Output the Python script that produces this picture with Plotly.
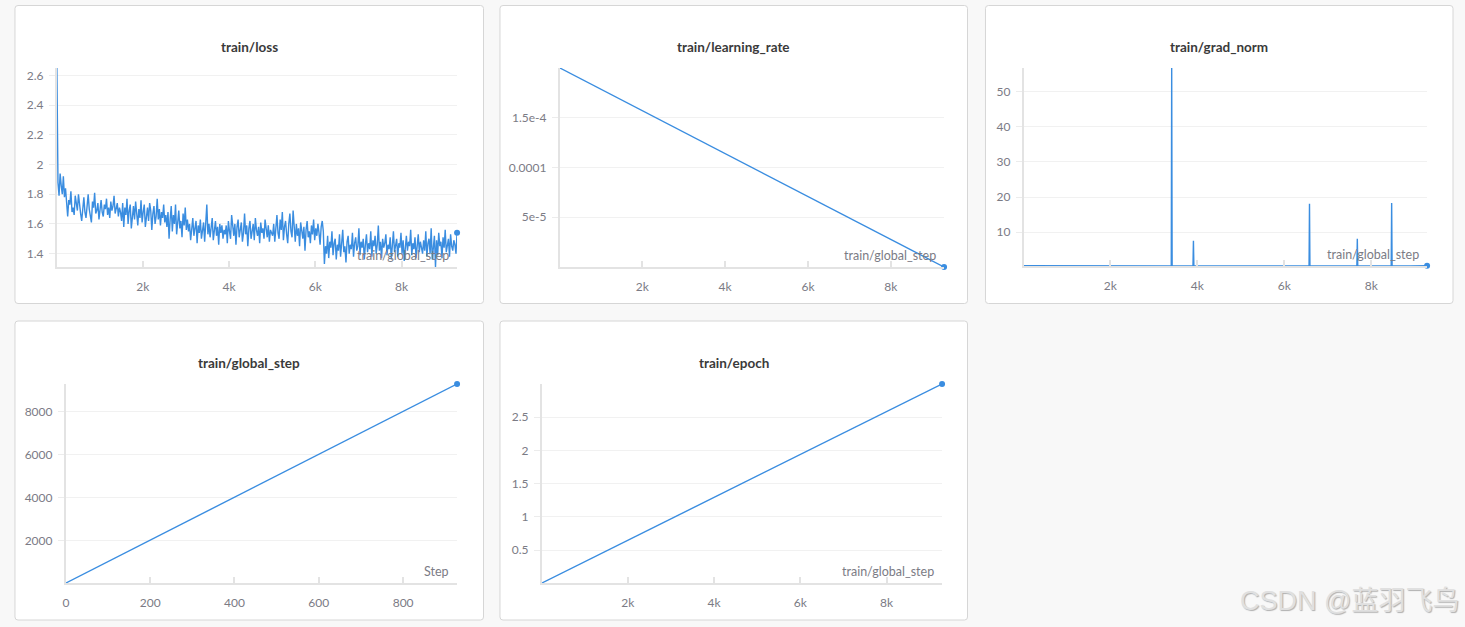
import numpy as np
import plotly.graph_objects as go

# ---------------- data ----------------
loss_values = [
    2.65,
    1.88, 1.79, 1.94, 1.86, 1.80, 1.92, 1.78, 1.84,
    1.70, 1.65, 1.76, 1.73, 1.82, 1.68, 1.71, 1.66, 1.79, 1.74, 1.69, 1.80, 1.72, 1.67,
    1.62, 1.73, 1.78, 1.68, 1.64, 1.72, 1.80, 1.70, 1.66, 1.61, 1.75, 1.71,
    1.81, 1.67, 1.69, 1.74, 1.63, 1.72, 1.76, 1.68, 1.65, 1.73, 1.70, 1.77,
    1.66, 1.71, 1.64, 1.75, 1.69, 1.72, 1.79, 1.67, 1.70, 1.74, 1.65, 1.71,
    1.68, 1.62, 1.74, 1.58, 1.71, 1.66, 1.77, 1.60, 1.69, 1.73, 1.57, 1.65,
    1.72, 1.63, 1.75, 1.67, 1.59, 1.70, 1.64, 1.76, 1.61, 1.68, 1.73, 1.58,
    1.66, 1.71, 1.62, 1.74, 1.69, 1.56, 1.67, 1.72, 1.60, 1.65, 1.77, 1.63,
    1.70, 1.59, 1.68, 1.64, 1.73, 1.61, 1.66,
    1.58, 1.68, 1.50, 1.63, 1.72, 1.55, 1.66, 1.60, 1.73, 1.53,
    1.64, 1.69, 1.57, 1.62, 1.51, 1.67, 1.59, 1.71, 1.56, 1.63,
    1.55, 1.60, 1.49, 1.58, 1.64, 1.52, 1.57, 1.62, 1.47, 1.59, 1.54, 1.63,
    1.50, 1.56, 1.61, 1.48, 1.58, 1.73, 1.53, 1.60, 1.51, 1.57, 1.64, 1.49,
    1.55, 1.62, 1.52, 1.58, 1.46, 1.60, 1.54, 1.59, 1.50, 1.56,
    1.53, 1.59, 1.47, 1.62, 1.55, 1.50, 1.66, 1.57, 1.52, 1.60, 1.46, 1.58,
    1.63, 1.51, 1.56, 1.61, 1.48, 1.54, 1.67, 1.53, 1.59, 1.45, 1.57, 1.62,
    1.50, 1.55, 1.60, 1.49, 1.64, 1.56, 1.52, 1.58, 1.47, 1.61, 1.54, 1.57,
    1.50, 1.63, 1.55, 1.51, 1.59, 1.48, 1.56, 1.53,
    1.52, 1.60, 1.48, 1.57, 1.66, 1.54, 1.50, 1.63, 1.56, 1.68,
    1.49, 1.58, 1.62, 1.53, 1.47, 1.60, 1.67, 1.55, 1.51, 1.69,
    1.55, 1.48, 1.60, 1.52, 1.57, 1.45, 1.61, 1.54, 1.50, 1.58, 1.42, 1.56,
    1.62, 1.51, 1.55, 1.47, 1.59, 1.53, 1.63, 1.49, 1.57, 1.52, 1.60, 1.54,
    1.46, 1.58, 1.62, 1.55,
    1.33, 1.45, 1.40, 1.52, 1.37, 1.48, 1.44, 1.55, 1.39, 1.47, 1.50, 1.36,
    1.46, 1.42, 1.53, 1.38, 1.49, 1.56, 1.41, 1.45, 1.34, 1.48, 1.52, 1.40,
    1.46, 1.43, 1.54, 1.38, 1.47, 1.51, 1.42, 1.45, 1.57, 1.39, 1.48, 1.44,
    1.50, 1.36, 1.46, 1.53, 1.41, 1.47, 1.43, 1.55, 1.38, 1.49, 1.45, 1.52,
    1.40, 1.46, 1.59, 1.42, 1.48, 1.37, 1.50, 1.44, 1.47, 1.53, 1.39, 1.46,
    1.43, 1.51, 1.36, 1.48, 1.55, 1.41, 1.45, 1.50, 1.38, 1.47, 1.44, 1.54,
    1.40, 1.49, 1.35, 1.46, 1.52, 1.42, 1.48, 1.45, 1.56, 1.39, 1.47, 1.43,
    1.51, 1.37, 1.46, 1.53, 1.41, 1.48, 1.44, 1.40, 1.49, 1.42, 1.55, 1.38,
    1.47, 1.50, 1.40, 1.57, 1.36, 1.46, 1.52, 1.31, 1.49, 1.39, 1.54, 1.45,
    1.48, 1.37, 1.51, 1.44, 1.56, 1.41, 1.47, 1.50, 1.38, 1.53, 1.45, 1.42,
    1.49, 1.46, 1.40, 1.54,
]
loss_first_step = 10
loss_last_step = 9285

lr_steps = [10, 9285]
lr_values = [0.0001998, 0.0000000215]

grad_steps = [10, 400, 900, 1500, 2100, 2700, 3200, 3400, 3410, 3420, 3900, 3910, 3920,
              4500, 5100, 5700, 6200, 6570, 6580, 6590, 7100, 7670, 7680, 7690,
              8100, 8460, 8470, 8480, 8900, 9285]
grad_values = [0.42, 0.40, 0.38, 0.36, 0.40, 0.35, 0.37, 0.36, 56.8, 0.38, 0.36, 7.5, 0.35,
               0.34, 0.36, 0.33, 0.35, 0.34, 18.1, 0.36, 0.33, 0.35, 8.1, 0.34,
               0.33, 0.35, 18.3, 0.34, 0.32, 0.40]

gs_steps = [0, 928]
gs_values = [10, 9285]

epoch_steps = [10, 9285]
epoch_values = [0.0032, 3.0]

k_ticks = [2000, 4000, 6000, 8000]
k_labels = ["2k", "4k", "6k", "8k"]

# ---------------- style ----------------
W, H = 1465, 627
LINE = "#3a8de0"
TICKC = "#7b7b85"
FONT = "Lato"

fig = go.Figure()

def xd(a, b):
    return [a / W, b / W]

def yd(top, bottom):
    return [1 - bottom / H, 1 - top / H]

panels = [
    dict(box=(12, 5.5, 481.5, 303.5), plot=(54, 455, 68, 267), title="train/loss", xlabel="train/global_step"),
    dict(box=(498, 5.5, 966.5, 303.5), plot=(558, 943, 68, 267), title="train/learning_rate", xlabel="train/global_step"),
    dict(box=(984.5, 5.5, 1453, 303.5), plot=(1023, 1427, 68, 266), title="train/grad_norm", xlabel="train/global_step"),
    dict(box=(12, 321, 481.5, 620), plot=(63, 455, 384, 583), title="train/global_step", xlabel="Step"),
    dict(box=(498, 321, 966.5, 620), plot=(540, 941, 384, 583), title="train/epoch", xlabel="train/global_step"),
]

loss_steps = np.linspace(loss_first_step, loss_last_step, len(loss_values))

series = [
    (loss_steps, loss_values),
    (lr_steps, lr_values),
    (grad_steps, grad_values),
    (gs_steps, gs_values),
    (epoch_steps, epoch_values),
]

ytick_sets = [
    dict(tickvals=[1.4, 1.6, 1.8, 2.0, 2.2, 2.4, 2.6], ticktext=["1.4", "1.6", "1.8", "2", "2.2", "2.4", "2.6"]),
    dict(tickvals=[5e-5, 1e-4, 1.5e-4], ticktext=["5e-5", "0.0001", "1.5e-4"]),
    dict(tickvals=[10, 20, 30, 40, 50], ticktext=["10", "20", "30", "40", "50"]),
    dict(tickvals=[2000, 4000, 6000, 8000], ticktext=["2000", "4000", "6000", "8000"]),
    dict(tickvals=[0.5, 1, 1.5, 2, 2.5], ticktext=["0.5", "1", "1.5", "2", "2.5"]),
]
xtick_sets = [
    dict(tickvals=k_ticks, ticktext=k_labels),
    dict(tickvals=k_ticks, ticktext=k_labels),
    dict(tickvals=k_ticks, ticktext=k_labels),
    dict(tickvals=[0, 200, 400, 600, 800], ticktext=["0", "200", "400", "600", "800"]),
    dict(tickvals=k_ticks, ticktext=k_labels),
]

shapes = []
annotations = []
layout_axes = {}

def rounded_rect(x0, y0, x1, y1, r=3):
    def px(x):
        return x / W
    def py(y):
        return 1 - y / H
    rx, ry = r / W, r / H
    X0, X1, Y0, Y1 = px(x0), px(x1), py(y0), py(y1)
    return (f"M {X0+rx},{Y0} L {X1-rx},{Y0} Q {X1},{Y0} {X1},{Y0-ry} "
            f"L {X1},{Y1+ry} Q {X1},{Y1} {X1-rx},{Y1} "
            f"L {X0+rx},{Y1} Q {X0},{Y1} {X0},{Y1+ry} "
            f"L {X0},{Y0-ry} Q {X0},{Y0} {X0+rx},{Y0} Z")

for i, (p, (xs, ys)) in enumerate(zip(panels, series), start=1):
    sfx = "" if i == 1 else str(i)
    xa, ya = "x" + sfx, "y" + sfx
    bx0, by0, bx1, by1 = p["box"]
    shapes.append(dict(type="path", path=rounded_rect(bx0, by0, bx1, by1), xref="paper", yref="paper",
                       fillcolor="white", line=dict(color="#d6d6d6", width=1), layer="below"))
    px0, px1, ptop, pbot = p["plot"]
    xs = list(xs)
    ys = list(ys)
    layout_axes["xaxis" + sfx] = dict(
        domain=xd(px0, px1), anchor=ya, range=[min(xs), max(xs)],
        showgrid=False, zeroline=False, showline=True, linecolor="#e3e3e3", linewidth=2,
        ticks="inside", ticklen=6, tickwidth=2, tickcolor="#e3e3e3",
        tickfont=dict(family=FONT, size=12, color=TICKC), ticklabelstandoff=8,
        tickmode="array", fixedrange=True, **xtick_sets[i - 1])
    layout_axes["yaxis" + sfx] = dict(
        domain=yd(ptop, pbot), anchor=xa, range=[min(ys), max(ys)],
        showgrid=True, gridcolor="#f1f1f1", gridwidth=1, zeroline=False,
        showline=True, linecolor="#e3e3e3", linewidth=2,
        ticks="outside", ticklen=6, tickwidth=1, tickcolor="#ececec",
        tickfont=dict(family=FONT, size=12, color=TICKC), ticklabelstandoff=3,
        tickmode="array", fixedrange=True, **ytick_sets[i - 1])
    fig.add_trace(go.Scatter(x=xs, y=ys, mode="lines", line=dict(color=LINE, width=1.4),
                             xaxis=xa, yaxis=ya, showlegend=False, hoverinfo="skip"))
    fig.add_trace(go.Scatter(x=[xs[-1]], y=[ys[-1]], mode="markers", marker=dict(color=LINE, size=6),
                             xaxis=xa, yaxis=ya, showlegend=False, cliponaxis=False, hoverinfo="skip"))
    annotations.append(dict(text="<b>" + p["title"] + "</b>", x=(bx0 + bx1) / 2 / W, y=1 - (by0 + 41.5) / H,
                            xref="paper", yref="paper", xanchor="center", yanchor="middle", showarrow=False,
                            font=dict(family=FONT, size=13.5, color="#3a3a3a")))
    annotations.append(dict(text=p["xlabel"], x=1, y=0, xref=xa + " domain", yref=ya + " domain",
                            xanchor="right", yanchor="bottom", xshift=-6, yshift=2, showarrow=False,
                            font=dict(family=FONT, size=12.5, color=TICKC)))

annotations.append(dict(text="CSDN @蓝羽飞鸟", x=1461 / W, y=1 - 601 / H, xref="paper", yref="paper",
                        xanchor="right", yanchor="middle", showarrow=False,
                        font=dict(family="Liberation Sans, Noto Sans CJK SC", size=27, color="#e0e0e0",
                                  shadow="1px 1px 1px #b0b0b0")))

fig.update_layout(
    width=W, height=H, autosize=False,
    margin=dict(l=0, r=0, t=0, b=0),
    paper_bgcolor="#f8f8f8", plot_bgcolor="rgba(0,0,0,0)",
    shapes=shapes, annotations=annotations, showlegend=False,
    hovermode=False,
    **layout_axes,
)

fig.write_html("out.html",
               config={"displayModeBar": False, "staticPlot": True},
               post_script="document.body.style.margin='0';document.body.style.background='#f8f8f8';")
